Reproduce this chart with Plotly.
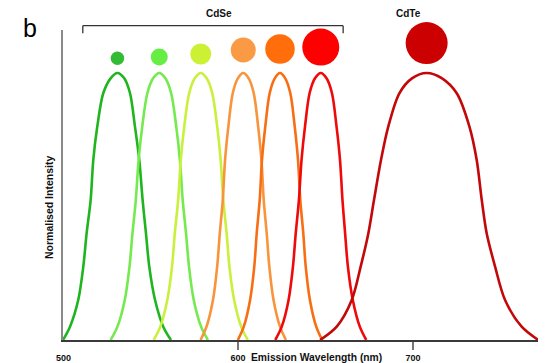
import plotly.graph_objects as go

# ---------------- data ----------------
intensity = [0, 0.05, 0.15, 0.275, 0.4, 0.524, 0.674, 0.8, 0.924, 0.98, 1,
             0.98, 0.924, 0.8, 0.674, 0.524, 0.4, 0.275, 0.15, 0.05, 0]

wl_cdse_1 = [500.0, 504.0, 508.7, 511.6, 513.5, 515.8, 517.3, 519.6, 523.0, 527.2, 531.1,
             535.0, 538.3, 541.1, 543.6, 545.5, 547.4, 549.3, 552.6, 557.3, 561.7]
wl_cdse_2 = [527.2, 531.1, 535.3, 538.0, 539.7, 541.6, 543.2, 545.3, 548.2, 551.5, 555.0,
             558.5, 561.8, 564.7, 566.8, 568.4, 570.3, 572.0, 574.7, 578.9, 582.8]
wl_cdse_3 = [551.8, 555.6, 559.6, 562.3, 563.9, 565.8, 567.3, 569.3, 572.1, 575.3, 578.7,
             582.1, 585.3, 588.1, 590.1, 591.6, 593.5, 595.1, 597.8, 601.8, 605.6]
wl_cdse_4 = [578.6, 582.0, 585.7, 588.1, 589.6, 591.3, 592.6, 594.5, 597.0, 599.9, 603.0,
             606.1, 609.0, 611.5, 613.4, 614.7, 616.4, 617.9, 620.3, 624.0, 627.4]
wl_cdse_5 = [599.9, 603.3, 606.9, 609.3, 610.7, 612.4, 613.7, 615.6, 618.1, 621.0, 624.0,
             627.0, 629.9, 632.4, 634.3, 635.6, 637.3, 638.7, 641.1, 644.7, 648.1]
wl_cdse_6 = [621.3, 625.0, 628.9, 631.4, 633.0, 634.8, 636.3, 638.3, 640.9, 644.0, 647.3,
             650.6, 653.7, 656.3, 658.3, 659.7, 661.2, 662.8, 665.6, 669.6, 673.3]
wl_cdte = [646.9, 656.4, 665.0, 670.1, 674.5, 677.7, 681.7, 685.9, 692.2, 699.4, 707.8,
           716.6, 725.0, 732.2, 736.4, 739.3, 742.1, 746.9, 752.6, 762.1, 771.6]

dot_wl = [531.1, 555.0, 578.7, 603.0, 624.0, 647.3, 707.8]
dot_level = [1.055, 1.06, 1.071, 1.086, 1.09, 1.097, 1.112]

x_tick_vals = [600, 700]
x_tick_text = ["600", "700"]

# ---------------- style ----------------
line_colors = ["#1fb51f", "#74ea4e", "#c8f03c", "#f7943c", "#f76e14", "#ee0a0a", "#c20808"]
dot_colors = ["#33bb33", "#66ee44", "#ccf033", "#fb9a45", "#ff6e0a", "#ff0000", "#cc0000"]
dot_sizes = [13.5, 17, 21, 25, 29.5, 37, 42]
FONT = "Liberation Sans, Arial, sans-serif"

series = [wl_cdse_1, wl_cdse_2, wl_cdse_3, wl_cdse_4, wl_cdse_5, wl_cdse_6, wl_cdte]

fig = go.Figure()
for wl, col in zip(series, line_colors):
    fig.add_trace(go.Scatter(x=wl, y=intensity, mode="lines",
                             line=dict(color=col, width=2.6, shape="spline", smoothing=0.9),
                             hoverinfo="skip", showlegend=False))

fig.add_trace(go.Scatter(x=dot_wl, y=dot_level, mode="markers",
                         marker=dict(color=dot_colors, size=dot_sizes, opacity=1,
                                     line=dict(width=0)),
                         cliponaxis=False, hoverinfo="skip", showlegend=False))

# page body has an 8px default margin, so the figure is sized/margined to compensate
fig.update_layout(
    width=538, height=355,
    margin=dict(l=55, r=0, t=22, b=23),
    paper_bgcolor="white", plot_bgcolor="white",
    xaxis=dict(range=[500, 776], showgrid=False, zeroline=False,
               showline=True, linecolor="#3a3a3a", linewidth=1.5,
               tickvals=x_tick_vals, ticktext=x_tick_text,
               ticks="outside", ticklen=8, tickcolor="#777777", tickwidth=1.5,
               tickfont=dict(family=FONT, size=9, color="#111111", weight="bold")),
    yaxis=dict(range=[0, 1.161], showgrid=False, zeroline=False,
               showline=True, linecolor="#8a8a8a", linewidth=2,
               showticklabels=False, ticks=""),
    font=dict(family=FONT),
)

# labels
fig.add_annotation(x=500, y=-0.058, xref="x", yref="paper", text="<b>500</b>",
                   yanchor="middle", showarrow=False,
                   font=dict(family=FONT, size=9, color="#111111"))
fig.add_annotation(x=645.1, y=-0.058, xref="x", yref="paper",
                   text="<b>Emission Wavelength (nm)</b>", yanchor="middle", showarrow=False,
                   font=dict(family=FONT, size=10.3, color="#111111"))
fig.add_annotation(x=-0.029, y=0.429, xref="paper", yref="paper",
                   text="<b>Normalised Intensity</b>", textangle=-90, showarrow=False,
                   xanchor="center", yanchor="middle",
                   font=dict(family=FONT, size=10.5, color="#111111"))
fig.add_annotation(x=-0.068, y=1.008, xref="paper", yref="paper", text="b",
                   xanchor="center", yanchor="middle", showarrow=False,
                   font=dict(family=FONT, size=25, color="#000000"))
fig.add_annotation(x=0.292, y=1.052, xref="paper", yref="paper", text="<b>CdSe</b>",
                   yanchor="middle", showarrow=False,
                   font=dict(family=FONT, size=10, color="#111111"))
fig.add_annotation(x=0.745, y=1.052, xref="paper", yref="paper", text="<b>CdTe</b>",
                   yanchor="middle", showarrow=False,
                   font=dict(family=FONT, size=10, color="#111111"))

# bracket above CdSe
bx0, bx1, by_top, by_bot = 0.041, 0.580, 1.0139, 0.9894
for (x0, y0, x1, y1) in [(bx0, by_top, bx1, by_top), (bx0, by_top, bx0, by_bot),
                         (bx1, by_top, bx1, by_bot)]:
    fig.add_shape(type="line", xref="paper", yref="paper", x0=x0, y0=y0, x1=x1, y1=y1,
                  line=dict(color="#333333", width=1.3))

fig.write_html("out.html")
